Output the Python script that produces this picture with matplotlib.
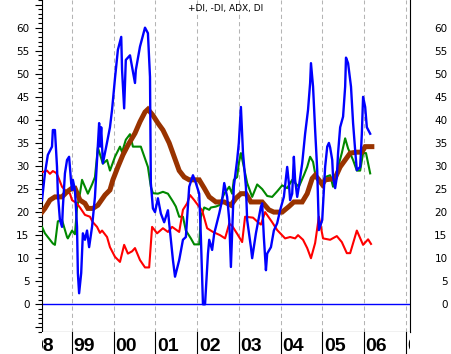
#!/usr/bin/env python
"""
 DMI chart: +DI, -DI, ADX, DI  (weekly, 1998 - 2006)
"""
import matplotlib
matplotlib.use('Agg')
import matplotlib.pyplot as plt
from matplotlib.ticker import MultipleLocator, FuncFormatter

#######################
#
# Data (fractional year, value)

blue_t = [1998.28, 1998.35, 1998.42, 1998.52, 1998.54, 1998.59, 1998.64, 1998.66, 1998.71, 1998.76,
          1998.78, 1998.83, 1998.88, 1998.93, 1998.98, 1999.00, 1999.02, 1999.07, 1999.12, 1999.14,
          1999.17, 1999.22, 1999.26, 1999.31, 1999.36, 1999.41, 1999.48, 1999.55, 1999.60, 1999.65,
          1999.67, 1999.70, 1999.74, 1999.82, 1999.91, 1999.96, 2000.03, 2000.10, 2000.18, 2000.20,
          2000.25, 2000.29, 2000.39, 2000.44, 2000.51, 2000.53, 2000.63, 2000.75, 2000.82, 2000.87,
          2000.89, 2000.94, 2000.99, 2001.06, 2001.13, 2001.21, 2001.30, 2001.33, 2001.42, 2001.47,
          2001.57, 2001.66, 2001.73, 2001.81, 2001.90, 2001.97, 2002.05, 2002.09, 2002.14, 2002.19,
          2002.26, 2002.29, 2002.36, 2002.41, 2002.45, 2002.53, 2002.60, 2002.65, 2002.72, 2002.77,
          2002.81, 2002.84, 2002.88, 2002.96, 2003.00, 2003.05, 2003.10, 2003.17, 2003.20, 2003.29,
          2003.32, 2003.41, 2003.53, 2003.56, 2003.60, 2003.65, 2003.68, 2003.77, 2003.84, 2003.92,
          2003.99, 2004.08, 2004.16, 2004.20, 2004.23, 2004.28, 2004.32, 2004.35, 2004.40, 2004.44,
          2004.52, 2004.59, 2004.66, 2004.71, 2004.73, 2004.78, 2004.83, 2004.88, 2004.92, 2005.00,
          2005.07, 2005.12, 2005.16, 2005.19, 2005.24, 2005.26, 2005.31, 2005.35, 2005.38, 2005.43,
          2005.50, 2005.55, 2005.57, 2005.62, 2005.69, 2005.74, 2005.79, 2005.83, 2005.91, 2005.95,
          2005.98, 2006.03, 2006.07, 2006.15]
blue_v = [22.6, 28.4, 32.4, 34.2, 37.8, 37.8, 29.8, 24.0, 18.3, 16.8,
          21.0, 28.4, 31.3, 32.0, 26.3, 24.8, 27.0, 24.8, 16.8, 6.8,
          2.4, 6.8, 15.4, 14.0, 16.0, 12.4, 16.8, 23.3, 31.3, 39.3,
          34.2, 38.4, 30.6, 34.2, 38.4, 42.2, 49.0, 55.2, 58.0, 50.8,
          42.5, 53.0, 54.0, 51.5, 48.0, 50.8, 55.9, 60.0, 58.8, 49.3,
          26.3, 20.8, 20.0, 23.0, 19.7, 17.8, 20.4, 17.6, 9.6, 6.0,
          9.6, 14.0, 14.6, 25.5, 28.0, 26.3, 24.0, 14.6, 0.0, 0.0,
          11.0, 14.0, 11.8, 15.4, 16.8, 19.7, 22.6, 26.3, 23.3, 18.3,
          8.1, 15.4, 25.5, 31.3, 35.0, 42.8, 32.8, 25.5, 18.3, 12.4,
          10.0, 15.4, 21.2, 21.9, 14.6, 7.4, 11.0, 12.4, 16.0, 17.6,
          20.4, 23.3, 29.8, 26.3, 22.6, 24.0, 32.0, 27.0, 23.3, 25.5,
          30.6, 37.0, 42.2, 48.0, 52.3, 47.2, 37.8, 29.1, 16.1, 18.3,
          29.8, 34.2, 35.0, 34.0, 31.3, 27.6, 25.2, 27.6, 32.8, 38.4,
          40.7, 47.2, 53.5, 52.3, 47.2, 39.3, 33.4, 29.1, 29.8, 37.0,
          45.0, 42.8, 38.4, 37.0]

red_t = [1998.30, 1998.40, 1998.47, 1998.54, 1998.62, 1998.66, 1998.76, 1998.86, 1998.95, 1999.00,
         1999.10, 1999.19, 1999.31, 1999.43, 1999.50, 1999.60, 1999.67, 1999.72, 1999.84, 1999.91,
         2000.03, 2000.15, 2000.25, 2000.34, 2000.44, 2000.51, 2000.63, 2000.75, 2000.85, 2000.92,
         2001.04, 2001.18, 2001.30, 2001.40, 2001.57, 2001.66, 2001.76, 2001.83, 2001.93, 2002.02,
         2002.12, 2002.24, 2002.38, 2002.55, 2002.67, 2002.77, 2002.84, 2002.96, 2003.08, 2003.15,
         2003.34, 2003.46, 2003.53, 2003.63, 2003.80, 2003.92, 2004.11, 2004.23, 2004.35, 2004.42,
         2004.54, 2004.64, 2004.73, 2004.83, 2004.92, 2005.02, 2005.19, 2005.35, 2005.47, 2005.59,
         2005.67, 2005.83, 2005.98, 2006.10, 2006.17]
red_v = [28.7, 29.0, 28.3, 28.9, 28.5, 27.8, 25.5, 24.5, 24.0, 22.6,
         22.0, 21.0, 19.4, 19.0, 17.8, 16.8, 15.5, 16.0, 14.6, 12.4,
         10.3, 9.2, 12.9, 11.0, 11.5, 12.2, 9.6, 8.0, 8.0, 16.8,
         15.4, 16.5, 15.7, 16.8, 15.7, 20.5, 21.9, 23.7, 22.6, 21.5,
         20.4, 16.5, 15.7, 15.0, 14.3, 17.5, 17.0, 15.3, 13.5, 19.0,
         18.8, 17.8, 17.3, 20.0, 17.8, 16.1, 14.3, 14.6, 14.3, 15.0,
         14.0, 12.2, 10.0, 13.3, 19.0, 14.3, 14.0, 14.8, 13.5, 11.1,
         11.1, 16.0, 12.9, 14.1, 13.1]

green_t = [1998.28, 1998.35, 1998.54, 1998.59, 1998.66, 1998.76, 1998.88, 1998.90, 1999.00, 1999.07,
           1999.12, 1999.19, 1999.24, 1999.31, 1999.38, 1999.48, 1999.55, 1999.62, 1999.74, 1999.84,
           1999.91, 2000.03, 2000.15, 2000.20, 2000.29, 2000.39, 2000.46, 2000.65, 2000.82, 2000.89,
           2000.94, 2001.06, 2001.18, 2001.30, 2001.42, 2001.49, 2001.57, 2001.66, 2001.73, 2001.85,
           2001.93, 2002.05, 2002.09, 2002.17, 2002.29, 2002.33, 2002.45, 2002.53, 2002.65, 2002.77,
           2002.84, 2002.88, 2002.96, 2003.00, 2003.05, 2003.12, 2003.20, 2003.32, 2003.44, 2003.56,
           2003.68, 2003.80, 2003.92, 2004.04, 2004.16, 2004.28, 2004.35, 2004.44, 2004.56, 2004.64,
           2004.71, 2004.78, 2004.83, 2004.92, 2005.00, 2005.07, 2005.19, 2005.26, 2005.38, 2005.47,
           2005.55, 2005.62, 2005.74, 2005.83, 2005.91, 2005.98, 2006.05, 2006.15]
green_v = [16.8, 15.4, 13.2, 12.9, 18.0, 18.3, 14.6, 14.3, 16.0, 15.2,
           21.0, 24.0, 27.0, 25.5, 24.0, 26.0, 27.6, 34.0, 30.5, 31.3,
           29.0, 32.0, 34.2, 33.0, 35.7, 36.9, 34.2, 34.2, 29.8, 25.5,
           24.1, 24.0, 24.4, 24.0, 22.3, 21.2, 19.0, 19.0, 16.0, 14.3,
           13.0, 13.0, 19.0, 21.0, 20.5, 21.0, 21.2, 21.5, 24.0, 25.5,
           24.0, 27.0, 27.6, 30.6, 32.8, 29.8, 26.3, 23.3, 26.0, 25.0,
           23.5, 23.3, 24.5, 25.8, 25.2, 27.0, 26.3, 25.5, 28.0, 29.8,
           32.0, 30.9, 28.4, 27.0, 26.0, 27.6, 28.0, 25.5, 29.8, 32.8,
           36.0, 33.8, 31.3, 29.0, 29.0, 32.8, 32.8, 28.4]

adx_t = [1998.28, 1998.35, 1998.47, 1998.59, 1998.76, 1998.88, 1999.00, 1999.07, 1999.19, 1999.31,
         1999.38, 1999.50, 1999.62, 1999.79, 1999.91, 1999.98, 2000.10, 2000.22, 2000.34, 2000.51,
         2000.63, 2000.75, 2000.82, 2000.94, 2001.06, 2001.18, 2001.33, 2001.45, 2001.57, 2001.69,
         2001.81, 2002.05, 2002.17, 2002.29, 2002.45, 2002.65, 2002.81, 2002.93, 2003.05, 2003.17,
         2003.29, 2003.56, 2003.72, 2003.84, 2004.04, 2004.20, 2004.32, 2004.52, 2004.64, 2004.76,
         2004.83, 2004.92, 2005.00, 2005.07, 2005.24, 2005.31, 2005.43, 2005.55, 2005.67, 2005.83,
         2005.95, 2006.03, 2006.19]
adx_v = [20.0, 20.8, 22.6, 23.3, 23.3, 24.4, 25.2, 25.2, 22.6, 21.9,
         20.8, 20.8, 21.5, 23.7, 24.8, 27.0, 29.8, 32.4, 34.5, 37.1,
         39.6, 41.7, 42.3, 41.0, 39.3, 37.8, 35.0, 32.0, 29.0, 27.6,
         27.0, 27.0, 25.2, 23.3, 22.2, 22.2, 21.5, 23.0, 24.0, 24.0,
         22.2, 22.2, 20.5, 20.0, 20.0, 21.2, 22.2, 22.2, 24.0, 27.3,
         28.0, 27.0, 26.0, 27.0, 27.2, 27.4, 29.8, 31.3, 32.8, 33.0,
         33.0, 34.2, 34.2]

years = [1998, 1999, 2000, 2001, 2002, 2003, 2004, 2005, 2006, 2007]
year_labels = ['98', '99', '00', '01', '02', '03', '04', '05', '06', '07']
title = '+DI, -DI, ADX, DI'

#######################
#
# Plot

fig = plt.figure(figsize=(4.51, 3.54), dpi=100)
ax = fig.add_axes([42/451., 22/354., 368/451., 332/354.])
axb = fig.add_axes([42/451., 0., 368/451., 22/354.])

xmin, xmax = 1998.28, 2007.105
ax.set_xlim(xmin, xmax)
ax.set_ylim(-6, 66)

for yr in years[1:]:
    ax.axvline(yr, color='#b4b4b4', lw=0.75, linestyle=(0, (4, 3)), zorder=1)
ax.axhline(0, color='#0000ff', lw=1.0, zorder=2)

ax.plot(green_t, green_v, color='#008800', lw=1.5, zorder=3)
ax.plot(red_t, red_v, color='#ff0000', lw=1.5, zorder=3)
ax.plot(adx_t, adx_v, color='#993300', lw=3.6, zorder=4, solid_joinstyle='miter')
ax.plot(blue_t, blue_v, color='#0000ff', lw=1.7, zorder=5)

ax.text(0.5, 1 - 8/332., title, transform=ax.transAxes, ha='center', va='center',
        fontsize=6.5, color='black')

fmt = FuncFormatter(lambda v, p: '%d' % v if 0 <= v <= 60 else '')

ax.spines['top'].set_visible(False)
ax.spines['bottom'].set_linewidth(0.8)
ax.spines['left'].set_linewidth(0.8)
ax.spines['right'].set_linewidth(0.8)
ax.set_xticks([])
ax.yaxis.set_major_locator(MultipleLocator(5))
ax.yaxis.set_minor_locator(MultipleLocator(1))
ax.yaxis.set_major_formatter(fmt)
ax.tick_params(axis='y', which='major', length=5, width=0.8, pad=4, labelsize=7.5,
               left=True, right=True, labelright=False)
ax.tick_params(axis='y', which='minor', length=3, width=0.8, left=True, right=True)

# right hand labels, right aligned away from the spine
ax2 = ax.twinx()
ax2.set_ylim(-6, 66)
ax2.yaxis.set_major_locator(MultipleLocator(5))
ax2.yaxis.set_major_formatter(fmt)
ax2.tick_params(axis='y', which='major', length=0, pad=27, labelsize=7.5)
for lab in ax2.get_yticklabels():
    lab.set_horizontalalignment('right')
for s in ax2.spines.values():
    s.set_visible(False)

# year band below the chart
axb.set_xlim(xmin, xmax)
axb.set_ylim(0, 1)
axb.set_xticks([])
axb.set_yticks([])
for s in axb.spines.values():
    s.set_visible(False)
for yr, lab in zip(years, year_labels):
    axb.axvline(yr, color='black', lw=0.8)
    axb.text(yr + 0.04, 0.14, lab, ha='left', va='baseline', fontsize=14, fontweight='bold',
             family=['Liberation Sans Narrow', 'Liberation Sans', 'DejaVu Sans'],
             clip_on=True)

plt.savefig('out.png', dpi=100)
plt.close()
